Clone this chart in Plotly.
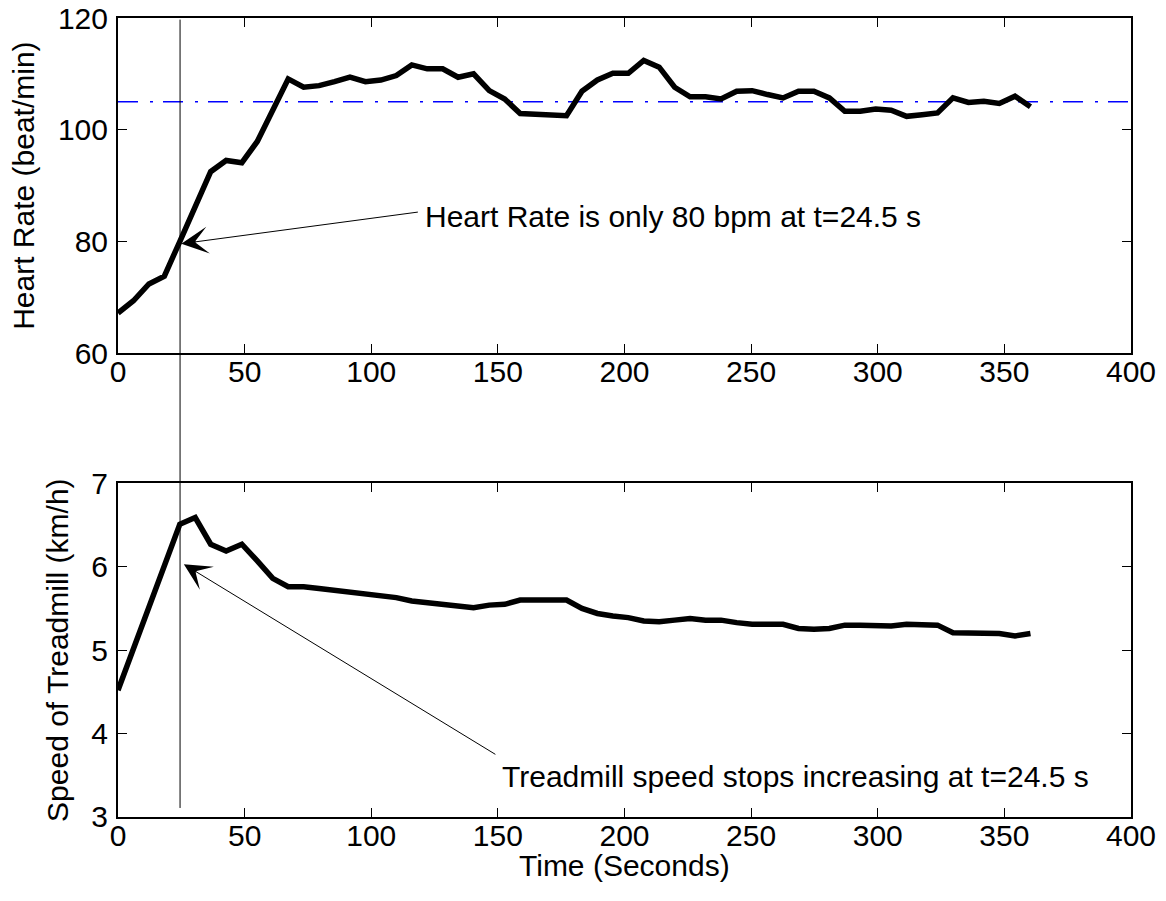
import plotly.graph_objects as go

# ---- data ----
time_s = [0, 6.1, 12.2, 18.3, 24.4, 30.5, 36.6, 42.7, 48.9, 55.0,
          61.1, 67.2, 73.3, 79.4, 85.5, 91.6, 97.7, 103.8, 109.9, 116.0,
          122.1, 128.2, 134.3, 140.4, 146.6, 152.7, 158.8, 164.9, 171.0, 177.1,
          183.2, 189.3, 195.4, 201.5, 207.6, 213.7, 219.8, 225.9, 232.0, 238.1,
          244.3, 250.4, 256.5, 262.6, 268.7, 274.8, 280.9, 287.0, 293.1, 299.2,
          305.3, 311.4, 317.5, 323.6, 329.7, 335.8, 341.9, 348.0, 354.2, 360.3]

heart_rate = [67.2, 69.4, 72.4, 73.8, 80.0, 86.5, 92.5, 94.5, 94.1, 97.9,
              103.5, 109.1, 107.6, 107.9, 108.6, 109.4, 108.6, 108.9, 109.7, 111.6,
              110.9, 110.9, 109.4, 110.0, 107.0, 105.5, 102.9, 102.7, 102.5, 102.5,
              106.9, 108.9, 110.1, 110.1, 112.4, 111.2, 107.6, 105.9, 105.9, 105.5,
              106.9, 107.0, 106.3, 105.7, 106.9, 106.9, 105.7, 103.3, 103.3, 103.7,
              103.5, 102.4, 102.7, 103.0, 105.7, 104.9, 105.1, 104.7, 106.0, 104.1]

speed = [4.52, 5.02, 5.51, 6.01, 6.51, 6.59, 6.27, 6.19, 6.27, 6.07,
         5.86, 5.76, 5.76, 5.74, 5.72, 5.69, 5.68, 5.66, 5.63, 5.59,
         5.57, 5.55, 5.54, 5.51, 5.54, 5.55, 5.60, 5.60, 5.60, 5.60,
         5.50, 5.44, 5.41, 5.39, 5.35, 5.34, 5.36, 5.38, 5.36, 5.36,
         5.33, 5.31, 5.31, 5.31, 5.26, 5.25, 5.26, 5.30, 5.30, 5.29,
         5.29, 5.31, 5.30, 5.30, 5.21, 5.21, 5.20, 5.20, 5.17, 5.20]

ref_x = [0, 400]
ref_hr = [105, 105]
event_t = 24.5

x_ticks = [0, 50, 100, 150, 200, 250, 300, 350, 400]
hr_ticks = [60, 80, 100, 120]
sp_ticks = [3, 4, 5, 6, 7]

FONT = "Liberation Sans, Arial, Helvetica, sans-serif"
FS = 30

fig = go.Figure()
fig.add_trace(go.Scatter(x=ref_x, y=ref_hr, mode="lines",
                         line=dict(color="#0000ff", width=1.5, dash="20px,12px,3px,10px"),
                         xaxis="x", yaxis="y", showlegend=False, hoverinfo="skip"))
fig.add_trace(go.Scatter(x=time_s, y=heart_rate, mode="lines",
                         line=dict(color="black", width=5.5),
                         xaxis="x", yaxis="y", showlegend=False))
fig.add_trace(go.Scatter(x=time_s, y=speed, mode="lines",
                         line=dict(color="black", width=5.5),
                         xaxis="x2", yaxis="y2", showlegend=False))

axis_common = dict(showgrid=False, zeroline=False, showline=True, mirror="ticks",
                   linecolor="black", linewidth=2, ticks="inside", ticklen=9,
                   tickwidth=1, tickcolor="black", automargin=False,
                   tickfont=dict(family=FONT, size=FS, color="black"))

fig.update_layout(
    width=1166, height=901,
    margin=dict(l=118, r=35, t=18, b=84, autoexpand=False),
    paper_bgcolor="white", plot_bgcolor="white",
    font=dict(family=FONT, size=FS, color="black"),
    xaxis=dict(domain=[0, 1], anchor="y", range=[0, 400], tickvals=x_ticks,
               ticklabelstandoff=-9, **axis_common),
    yaxis=dict(domain=[0.5804, 1.0], anchor="x", range=[60, 120], tickvals=hr_ticks,
               ticklabelstandoff=2,
               title=dict(text="Heart Rate (beat/min)", font=dict(family=FONT, size=FS), standoff=14),
               **axis_common),
    xaxis2=dict(domain=[0, 1], anchor="y2", range=[0, 400], tickvals=x_ticks,
                ticklabelstandoff=-9, **axis_common),
    yaxis2=dict(domain=[0, 0.4176], anchor="x2", range=[3, 7], tickvals=sp_ticks,
                ticklabelstandoff=2,
                title=dict(text="Speed of Treadmill (km/h)", font=dict(family=FONT, size=FS), standoff=14),
                **axis_common),
)

# x-axis title of the lower panel
fig.add_annotation(x=0.5, y=-0.0613, xref="paper", yref="paper", text="Time (Seconds)",
                   showarrow=False, xanchor="center", yanchor="middle",
                   font=dict(family=FONT, size=FS, color="black"))

# vertical event line spanning both panels
fig.add_shape(type="line", xref="x", yref="paper", x0=event_t, x1=event_t,
              y0=0.0113, y1=0.998, line=dict(color="black", width=1))

# arrows
fig.add_annotation(x=25.0, y=79.6, xref="x", yref="y", ax=119.0, ay=85.3,
                   axref="x", ayref="y", text="", showarrow=True,
                   arrowhead=3, arrowsize=4.5, arrowwidth=1, arrowcolor="black")
fig.add_annotation(x=120.4, y=84.4, xref="x", yref="y", text="Heart Rate is only 80 bpm at t=24.5 s",
                   showarrow=False, xanchor="left", yanchor="middle",
                   font=dict(family=FONT, size=FS, color="black"))
fig.add_annotation(x=26.0, y=6.03, xref="x2", yref="y2", ax=149.6, ay=3.74,
                   axref="x2", ayref="y2", text="", showarrow=True,
                   arrowhead=3, arrowsize=4.5, arrowwidth=1, arrowcolor="black")
fig.add_annotation(x=150.8, y=3.49, xref="x2", yref="y2",
                   text="Treadmill speed stops increasing at t=24.5 s",
                   showarrow=False, xanchor="left", yanchor="middle",
                   font=dict(family=FONT, size=FS, color="black"))

fig.write_html("out.html")
